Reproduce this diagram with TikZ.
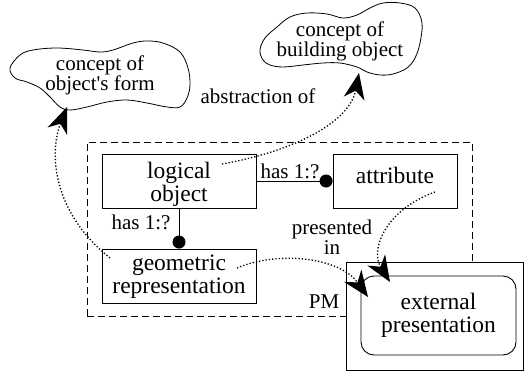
\documentclass[tikz,border=0pt]{standalone}
\usepackage{fontspec}
\setmainfont{Liberation Serif}[Ligatures=TeXOff]
\usetikzlibrary{arrows.meta,calc}

\begin{document}
\begin{tikzpicture}[x=1pt,y=-1pt,
  frame/.style={draw, line width=0.9pt, inner sep=0pt},
  boxtext/.style={font=\fontsize{23.5}{23}\selectfont, align=center, inner sep=0pt},
  labeltext/.style={font=\fontsize{21}{20}\selectfont, align=center, inner sep=0pt},
  cloudtext/.style={font=\fontsize{21}{19}\selectfont, align=center, inner sep=0pt},
  cloudline/.style={draw, line width=0.8pt},
  pmline/.style={draw, line width=0.9pt, dash pattern=on 7pt off 4pt},
  flow/.style={line width=1.3pt, dash pattern=on 1.3pt off 2pt,
    -{Stealth[length=26pt,width=21pt,inset=8pt]}},
  has/.style={line width=0.9pt, -{Circle[length=13pt]}}]

\useasboundingbox (0,0) rectangle (524,372);

% package boundary PM
\node[pmline, inner sep=0pt, minimum width=385pt, minimum height=174pt] (pm) at (279.5,229) {};
\node[labeltext, anchor=base] (pmlabel) at (324,308) {PM};

% external presentation
\node[frame, fill=white, minimum width=177pt, minimum height=108pt] (outer) at (434.5,316) {};
\node[frame, rounded corners=13pt, minimum width=155pt, minimum height=79pt] (ext) at (438.5,315.5) {};
\node[boxtext] (extt) at (438.5,315.5) {external\\presentation};

% model boxes
\node[frame, minimum width=154pt, minimum height=54pt] (lo) at (179,181) {};
\node[boxtext] (lot) at (179,184) {logical\\object};
\node[frame, minimum width=124pt, minimum height=54pt] (at) at (395,181) {};
\node[boxtext, anchor=base] (att) at (395,183) {attribute};
\node[frame, minimum width=154pt, minimum height=54pt] (geo) at (179,276) {};
\node[boxtext] (geot) at (179,277) {geometric\\representation};

% associations
\draw[has] (lo.east) -- (at.west);
\node[labeltext, anchor=base] (has1) at (290,178) {has 1:?};
\draw[has] (lo.south) -- (geo.north);
\node[labeltext, anchor=base] (has2) at (141,229) {has 1:?};

% concepts
\draw[cloudline] plot[smooth cycle, tension=0.6] coordinates {
  (10,68) (20,55) (33,50) (57,48) (83,50) (100,52) (113,50) (133,43)
  (147,41) (163,43) (180,52) (188,68) (190,85) (187,98) (180,107)
  (167,107) (147,103) (127,100) (107,102) (87,107) (70,110) (60,107)
  (50,97) (40,88) (27,82) (15,78)};
\node[cloudtext] (form) at (100,75.6) {concept of\\object's form};

\draw[cloudline] plot[smooth cycle, tension=0.6] coordinates {
  (260,50) (265,38) (277,27) (290,17) (307,13) (327,14) (343,18)
  (357,15) (370,8) (383,3) (400,3) (415,8) (422,23) (420,43) (415,58)
  (407,68) (393,74) (380,75) (367,72) (357,67) (340,63) (323,63)
  (303,65) (283,67) (270,65) (263,60)};
\node[cloudtext] (build) at (340,41.6) {concept of\\building object};

\node[labeltext, anchor=base] (abst) at (258,103) {abstraction of};
\node[labeltext] (pres) at (332,237) {presented\\in};

% dotted relations
\coordinate (s1) at (110,258);
\coordinate (e1) at (67,107);
\coordinate (s2) at (222,164);
\coordinate (e2) at (359,73);
\coordinate (s3) at (435,192);
\coordinate (e3) at (390,282);
\coordinate (s4) at (237,268);
\coordinate (e4) at (368,297);

\draw[flow] (s1) .. controls (50,210) and (50,150) .. (e1);
\draw[flow] (s2) .. controls (300,150) and (350,120) .. (e2);
\draw[flow] (s3) .. controls (385,210) and (370,250) .. (e3);
\draw[flow] (s4) .. controls (280,250) and (340,258) .. (e4);

\end{tikzpicture}
\end{document}
